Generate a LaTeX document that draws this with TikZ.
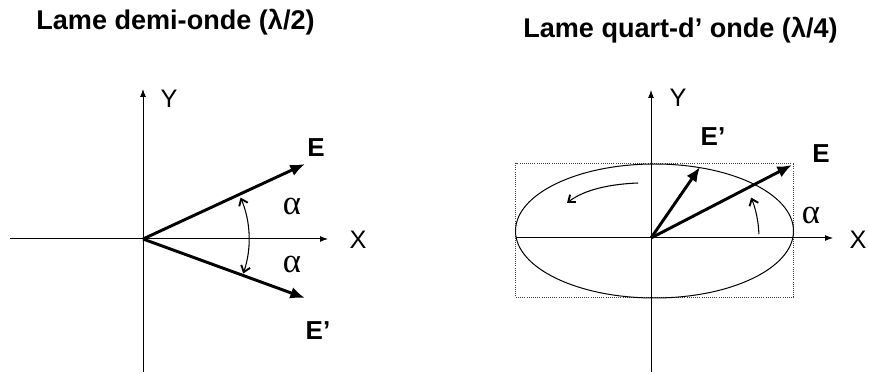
\documentclass[tikz,border=0pt]{standalone}
\usepackage{fontspec}
\setmainfont{Liberation Sans}
\newfontfamily\greekserif{Liberation Serif}
\usetikzlibrary{arrows.meta}
\begin{document}
\begin{tikzpicture}[x=0.75pt,y=-0.75pt,
  axis/.style={line width=0.75pt,-{Latex[length=6pt,width=4.5pt]}},
  plain/.style={line width=0.75pt},
  vec/.style={line width=2.2pt,-{Latex[length=11pt,width=9pt]}},
  curvarrow/.style={line width=0.8pt,-{Straight Barb[length=4.5pt,width=7pt,line width=1.4pt]}},
  bothcurv/.style={line width=0.8pt,{Straight Barb[length=4.5pt,width=7pt,line width=1.4pt]}-{Straight Barb[length=4.5pt,width=7pt,line width=1.4pt]}},
  titlelab/.style={font=\bfseries\fontsize{20.3}{23}\selectfont, inner sep=0pt},
  axlab/.style={font=\fontsize{19}{22}\selectfont, inner sep=0pt},
  elab/.style={font=\bfseries\fontsize{19.5}{22}\selectfont, inner sep=0pt},
  alab/.style={font=\greekserif\fontsize{26}{28}\selectfont, inner sep=0pt},
  frame/.style={line width=0.6pt, densely dotted, black!75}]
\useasboundingbox (0,0) rectangle (869,374);

% ---------- Left: half-wave plate ----------
\node[titlelab] (t1) at (175.5,22) {Lame demi-onde (λ/2)};
\coordinate (O1) at (143,239);
\coordinate (Y1b) at (143,372);
\coordinate (Y1t) at (143,89);
\coordinate (X1l) at (10,239);
\coordinate (X1r) at (328,239);
\draw[axis] (Y1b) -- (Y1t);
\draw[axis] (X1l) -- (X1r);
\node[axlab] (ylab1) at (169,99) {Y};
\node[axlab] (xlab1) at (358,240) {X};
\coordinate (E1) at (305,164);
\coordinate (E1p) at (305,298);
\draw[vec] (O1) -- (E1);
\draw[vec] (O1) -- (E1p);
\node[elab] (e1) at (316,148) {E};
\node[elab] (e1p) at (318,331) {E’};
\draw[bothcurv] ([shift={(-23:106)}]O1) arc[start angle=-23, end angle=19, radius=106];
\node[alab] (a1) at (292,206) {α};
\node[alab] (a2) at (292,264) {α};

% ---------- Right: quarter-wave plate ----------
\node[titlelab] (t2) at (680.5,30) {Lame quart-d’ onde (λ/4)};
\coordinate (O2) at (651,238);
\coordinate (Y2b) at (651,372);
\coordinate (Y2t) at (651,90);
\coordinate (X2l) at (516,238);
\coordinate (X2r) at (833,238);
\draw[frame] (515.5,163) rectangle (793.5,297);
\draw[plain] (654.5,231) ellipse [x radius=139, y radius=67];
\draw[axis] (Y2b) -- (Y2t);
\draw[axis] (X2l) -- (X2r);
\node[axlab] (ylab2) at (678,98) {Y};
\node[axlab] (xlab2) at (858,240) {X};
\coordinate (E2) at (792,165);
\coordinate (E2p) at (700,167);
\draw[vec] (O2) -- (E2p);
\draw[vec] (O2) -- (E2);
\node[elab] (e2p) at (713,137) {E’};
\node[elab] (e2) at (821,154) {E};
\node[alab] (a3) at (811,215) {α};
\draw[curvarrow] ([shift={(-2:108)}]O2) arc[start angle=-2, end angle=-22, radius=108];
\coordinate (R1) at (638,183);
\coordinate (R2) at (567,203);
\draw[curvarrow] (R1) .. controls (612,184) and (585,189) .. (R2);
\end{tikzpicture}
\end{document}
